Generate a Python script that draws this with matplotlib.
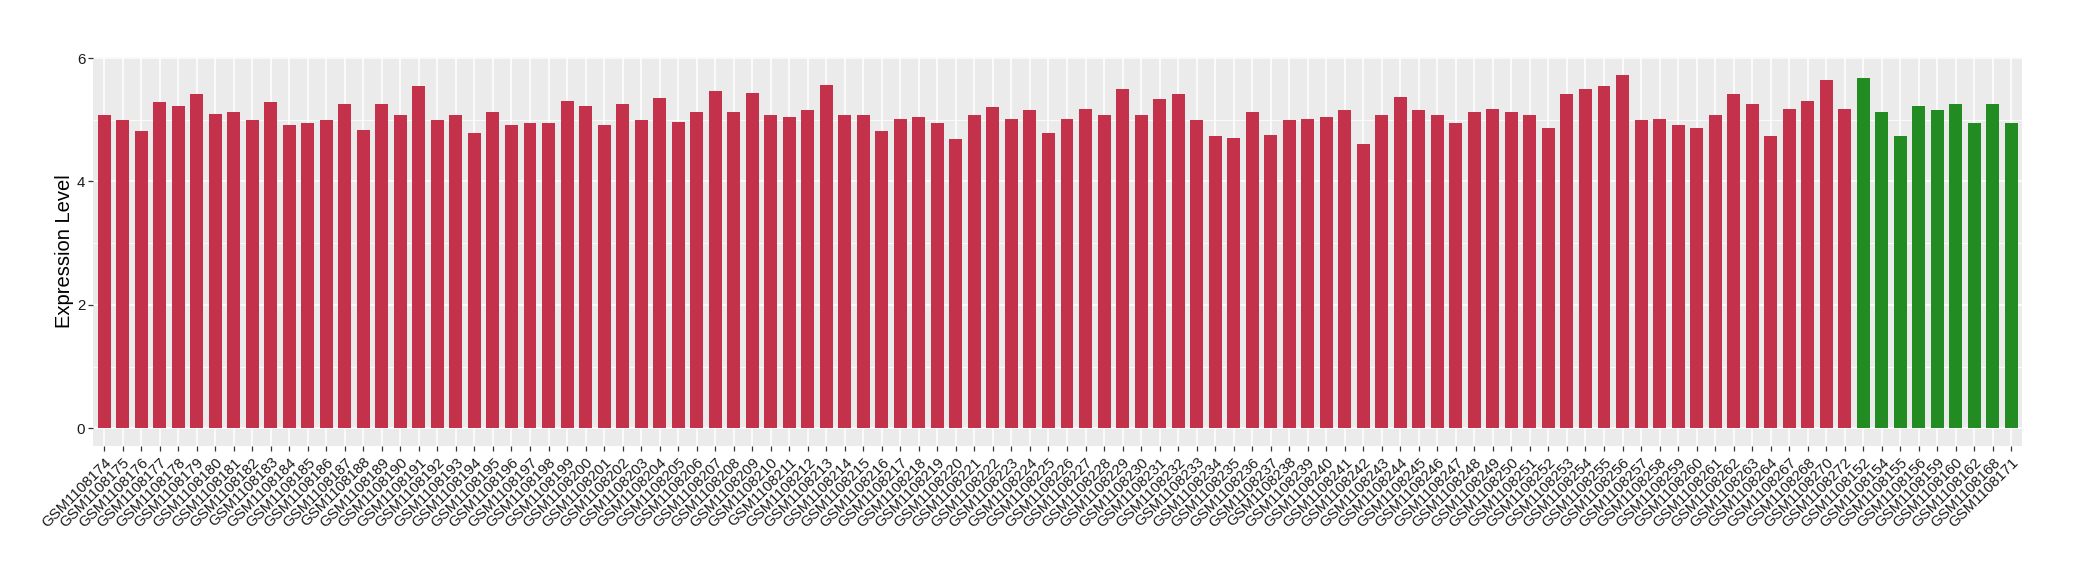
import matplotlib
matplotlib.use("Agg")
import matplotlib.pyplot as plt
import numpy as np

plt.rcParams['font.family'] = ['Liberation Sans', 'DejaVu Sans']

red_samples = [f"GSM1108{n}" for n in list(range(174, 265)) + [267, 268, 270, 272]]
green_samples = ["GSM1108152", "GSM1108154", "GSM1108155", "GSM1108156", "GSM1108159",
                 "GSM1108160", "GSM1108162", "GSM1108168", "GSM1108171"]

red_values = [
    5.08, 4.99, 4.81, 5.28, 5.23, 5.42, 5.10, 5.13, 4.99, 5.29,
    4.91, 4.94, 4.99, 5.26, 4.84, 5.25, 5.07, 5.54, 5.00, 5.08,
    4.79, 5.12, 4.91, 4.95, 4.95, 5.31, 5.23, 4.92, 5.26, 5.00,
    5.36, 4.97, 5.12, 5.47, 5.12, 5.44, 5.07, 5.05, 5.15, 5.57,
    5.08, 5.08, 4.82, 5.02, 5.05, 4.95, 4.68, 5.08, 5.20, 5.02,
    5.16, 4.78, 5.02, 5.18, 5.08, 5.49, 5.07, 5.33, 5.41, 5.00,
    4.73, 4.71, 5.12, 4.76, 5.00, 5.02, 5.05, 5.16, 4.61, 5.07,
    5.37, 5.15, 5.07, 4.95, 5.12, 5.18, 5.13, 5.08, 4.87, 5.42,
    5.50, 5.55, 5.73, 5.00, 5.02, 4.91, 4.87, 5.08, 5.42, 5.25,
    4.74, 5.18, 5.31, 5.65, 5.18,
]
green_values = [5.67, 5.13, 4.74, 5.23, 5.16, 5.25, 4.95, 5.25, 4.94]

y_ticks = [0, 2, 4, 6]
y_label = "Expression Level"

red_color = "#C3314A"
green_color = "#228B22"

samples = red_samples + green_samples
values = red_values + green_values
colors = [red_color] * len(red_values) + [green_color] * len(green_values)

fig = plt.figure(figsize=(20.8, 5.8), dpi=100)
ax = fig.add_axes([93 / 2080, 1 - 446 / 580, (2022.5 - 93) / 2080, (446 - 57) / 580])
ax.set_facecolor("#EBEBEB")

x = np.arange(len(samples))
ax.bar(x, values, width=0.7, color=colors, zorder=3)

n = len(samples)
ax.set_xlim(-0.6, n - 0.4)
vmax = max(values)
ax.set_ylim(-0.05 * vmax, 1.05 * vmax)

ax.set_yticks(y_ticks)
ax.set_yticks([1, 3, 5], minor=True)
ax.set_xticks(x)
ax.set_xticklabels(samples, rotation=45, ha="right", va="top", rotation_mode="anchor",
                   fontsize=10.8, color="#1A1A1A")
ax.tick_params(axis="y", labelsize=10.8, labelcolor="#1A1A1A", length=3.5, width=0.9,
               color="#333333", pad=2)
ax.tick_params(axis="y", which="minor", length=0)
ax.tick_params(axis="x", length=3.5, width=0.9, color="#333333", pad=3)

ax.grid(which="major", axis="both", color="white", linewidth=1.1, zorder=0)
ax.grid(which="minor", axis="y", color="white", linewidth=0.55, zorder=0)
ax.set_axisbelow(True)
for s in ax.spines.values():
    s.set_visible(False)

ax.set_ylabel(y_label, fontsize=14.5, color="black", labelpad=2)

fig.savefig("out.png", dpi=100, facecolor="white")
